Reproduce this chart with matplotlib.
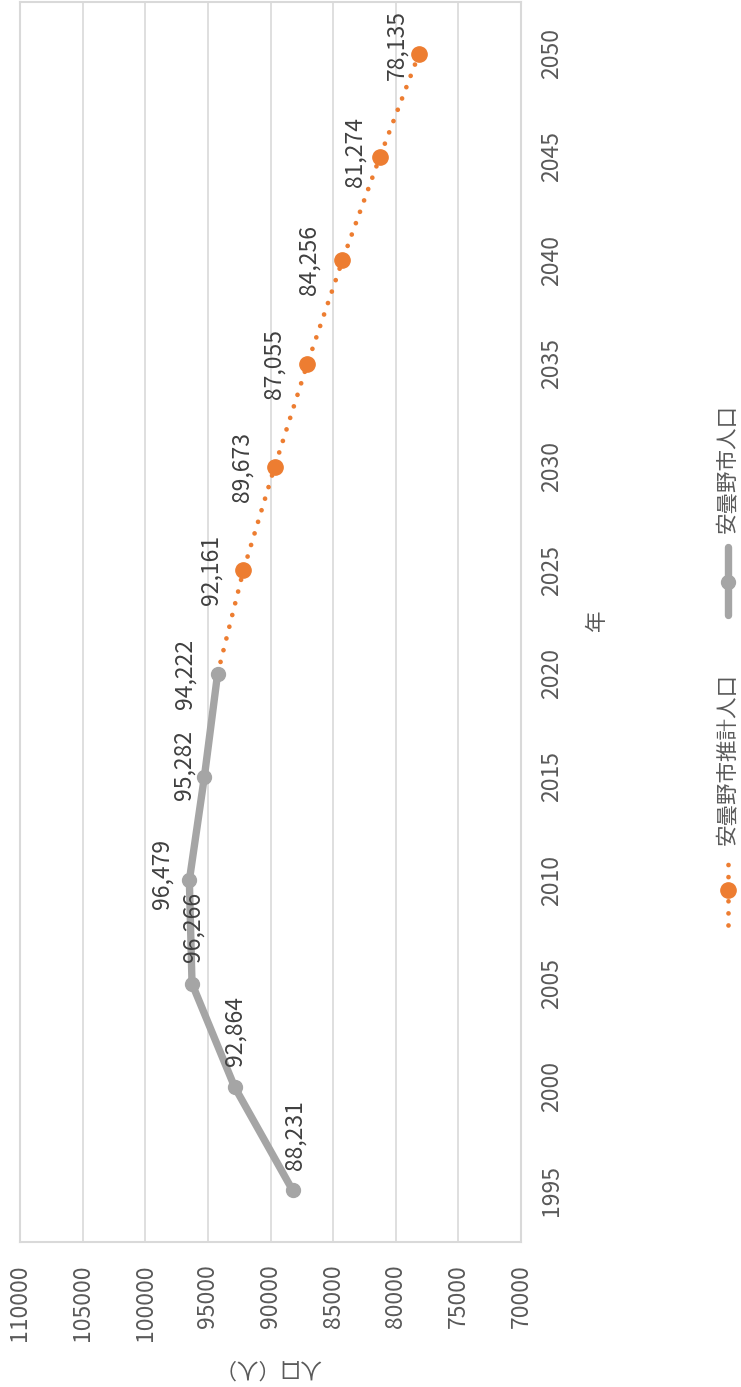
import matplotlib
matplotlib.use("Agg")
import matplotlib.pyplot as plt
from matplotlib.lines import Line2D

plt.rcParams['font.family'] = ['Noto Sans CJK JP', 'DejaVu Sans']

# data
years_actual = [1995, 2000, 2005, 2010, 2015, 2020]
pop_actual = [88231, 92864, 96266, 96479, 95282, 94222]
years_est = [2020, 2025, 2030, 2035, 2040, 2045, 2050]
pop_est = [94222, 92161, 89673, 87055, 84256, 81274, 78135]
name_actual = "安曇野市人口"
name_est = "安曇野市推計人口"

year_ticks = list(range(1995, 2051, 5))
pop_ticks = list(range(70000, 110001, 5000))

# hand-placed data labels (offsets in image px: right, down)
lab_off_actual = [(2, -55), (0, -56), (1, -57), (-27, -6), (-20, -12), (-33, 0)]
lab_off_est = [(-32, 0), (-32, 0), (-33, 0), (-33, 0), (-25, -5), (-22, -9)]

gray = "#a5a5a5"
orange = "#ed7d31"
grid_c = "#d9d9d9"
tick_c = "#595959"
lab_c = "#404040"
fs = 15.5      # japanese text
fs_num = 16.5  # numbers

W, H = 741, 1387
fig = plt.figure(figsize=(W / 100, H / 100), dpi=100)
ax = fig.add_axes([20 / W, 1 - 1242 / H, 501 / W, 1240 / H])

# chart is drawn rotated: population across, years upward
ax.plot(pop_est, years_est, color=orange, lw=3.4, linestyle=(0, (0.01, 2.55)),
        dash_capstyle='round', marker='o', markersize=11, markevery=list(range(1, len(pop_est))),
        markerfacecolor=orange, markeredgecolor=orange, zorder=3)
ax.plot(pop_actual, years_actual, color=gray, lw=5.3, marker='o', markersize=10,
        solid_capstyle='round', zorder=4)

for v, y, (dx, dy) in zip(pop_actual, years_actual, lab_off_actual):
    ax.annotate(f"{v:,}", (v, y), xytext=(dx * 0.72, -dy * 0.72), textcoords='offset points',
                rotation=90, ha='center', va='center', fontsize=fs_num, color=lab_c, zorder=5)
for v, y, (dx, dy) in zip(pop_est[1:], years_est[1:], lab_off_est):
    ax.annotate(f"{v:,}", (v, y), xytext=(dx * 0.72, -dy * 0.72), textcoords='offset points',
                rotation=90, ha='center', va='center', fontsize=fs_num, color=lab_c, zorder=5)

ax.set_xlim(110000, 70000)
ax.set_ylim(1992.5, 2052.5)
ax.set_xticks(pop_ticks)
ax.set_xticklabels([str(p) for p in pop_ticks], rotation=90)
ax.set_yticks(year_ticks)
ax.set_yticklabels([str(y) for y in year_ticks], rotation=90, va='center')
ax.tick_params(axis='x', length=0, pad=16, labelsize=fs_num, labelcolor=tick_c)
ax.tick_params(axis='y', length=0, pad=14, labelsize=fs_num, labelcolor=tick_c,
               left=False, labelleft=False, right=False, labelright=True)
ax.grid(axis='x', color=grid_c, lw=1.2)
for s in ax.spines.values():
    s.set_color(grid_c)
    s.set_linewidth(1.5)

# axis titles
fig.text(268 / W, 1 - 1367 / H, "人口（人）", rotation=180, ha='center', va='center',
         fontsize=fs, color=tick_c)
fig.text(597 / W, 1 - 620 / H, "年", rotation=90, ha='center', va='center',
         fontsize=fs, color=tick_c)

# legend, drawn by hand because it is rotated
lx = 728 / W
fig.add_artist(Line2D([lx, lx], [1 - 925 / H, 1 - 858 / H], transform=fig.transFigure,
                      color=orange, lw=3.4, linestyle=(0, (0.01, 2.55)), dash_capstyle='round'))
fig.add_artist(Line2D([lx], [1 - 890 / H], transform=fig.transFigure, color=orange,
                      marker='o', markersize=11, linestyle='none'))
fig.text(lx, 1 - 845 / H, name_est, rotation=90, ha='center', va='bottom',
         fontsize=fs, color=tick_c)
fig.add_artist(Line2D([lx, lx], [1 - 615 / H, 1 - 547 / H], transform=fig.transFigure,
                      color=gray, lw=5.3, solid_capstyle='round'))
fig.add_artist(Line2D([lx], [1 - 582 / H], transform=fig.transFigure, color=gray,
                      marker='o', markersize=10, linestyle='none'))
fig.text(lx, 1 - 533 / H, name_actual, rotation=90, ha='center', va='bottom',
         fontsize=fs, color=tick_c)

fig.savefig("out.png", dpi=100)
